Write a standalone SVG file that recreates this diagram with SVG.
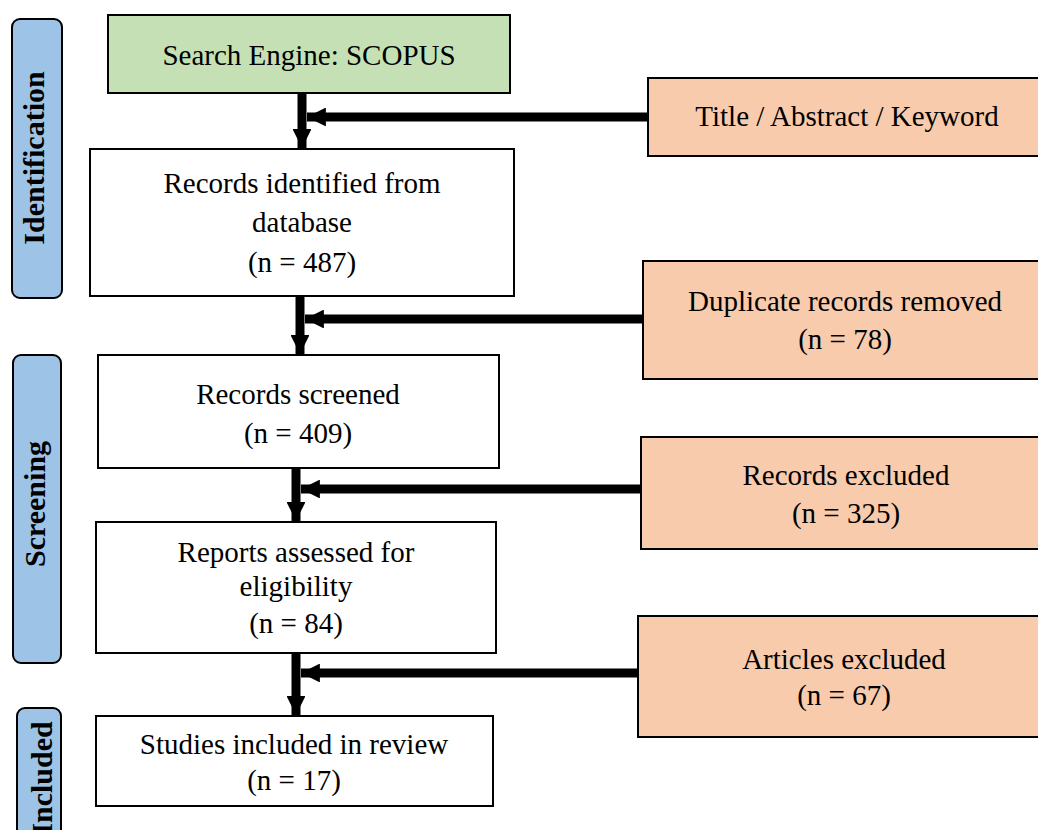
<svg xmlns="http://www.w3.org/2000/svg" width="1038" height="830" viewBox="0 0 1038 830">
  <style>
    .box { stroke: #000; stroke-width: 2; }
    .plain { fill: #fff; }
    .green { fill: #C5E0B4; }
    .orange { fill: #F8CBAD; }
    .phase { fill: #9DC3E6; stroke: #000; stroke-width: 2; }
    .txt { font-family: "Liberation Serif", "Times New Roman", serif; font-size: 29px; fill: #000; text-anchor: middle; }
    .ph { font-family: "Liberation Serif", "Times New Roman", serif; font-size: 30px; font-weight: bold; fill: #000; text-anchor: middle; }
    .shaft { stroke: #000; stroke-width: 9; fill: none; }
  </style>
  <defs>
    <marker id="head" viewBox="0 0 10 10" refX="10" refY="5" markerWidth="2.1" markerHeight="2.1" markerUnits="strokeWidth" orient="auto">
      <path d="M0,0 L10,5 L0,10 Z" fill="#000"/>
    </marker>
  </defs>

  <!-- phase labels -->
  <g id="phase-identification">
    <rect class="phase" x="12" y="19" width="50" height="279" rx="8"/>
    <text class="ph" transform="translate(44,158) rotate(-90)">Identification</text>
  </g>
  <g id="phase-screening">
    <rect class="phase" x="13" y="355" width="48" height="308" rx="8"/>
    <text class="ph" transform="translate(45,504) rotate(-90)">Screening</text>
  </g>
  <g id="phase-included">
    <rect class="phase" x="17" y="708" width="44" height="140" rx="8"/>
    <text class="ph" transform="translate(52,778) rotate(-90)">Included</text>
  </g>

  <!-- flow boxes -->
  <g id="search-engine">
    <rect class="box green" x="108" y="15" width="402" height="78"/>
    <text class="txt" x="309" y="65">Search Engine: SCOPUS</text>
  </g>
  <g id="records-identified">
    <rect class="box plain" x="90" y="149" width="424" height="147"/>
    <text class="txt" x="302" y="193">Records identified from</text>
    <text class="txt" x="302" y="232">database</text>
    <text class="txt" x="302" y="272">(n = 487)</text>
  </g>
  <g id="records-screened">
    <rect class="box plain" x="98" y="355" width="401" height="113"/>
    <text class="txt" x="298" y="404">Records screened</text>
    <text class="txt" x="298" y="443">(n = 409)</text>
  </g>
  <g id="reports-assessed">
    <rect class="box plain" x="96" y="522" width="400" height="131"/>
    <text class="txt" x="296" y="562">Reports assessed for</text>
    <text class="txt" x="296" y="596">eligibility</text>
    <text class="txt" x="296" y="633">(n = 84)</text>
  </g>
  <g id="studies-included">
    <rect class="box plain" x="96" y="716" width="397" height="90"/>
    <text class="txt" x="294" y="754">Studies included in review</text>
    <text class="txt" x="294" y="790">(n = 17)</text>
  </g>

  <!-- side boxes -->
  <g id="search-fields">
    <rect class="box orange" x="648" y="78" width="400" height="78"/>
    <text class="txt" x="847" y="126">Title / Abstract / Keyword</text>
  </g>
  <g id="duplicates-removed">
    <rect class="box orange" x="643" y="261" width="405" height="118"/>
    <text class="txt" x="845" y="311">Duplicate records removed</text>
    <text class="txt" x="845" y="349">(n = 78)</text>
  </g>
  <g id="records-excluded">
    <rect class="box orange" x="641" y="437" width="407" height="112"/>
    <text class="txt" x="846" y="485">Records excluded</text>
    <text class="txt" x="846" y="523">(n = 325)</text>
  </g>
  <g id="articles-excluded">
    <rect class="box orange" x="638" y="616" width="410" height="121"/>
    <text class="txt" x="844" y="669">Articles excluded</text>
    <text class="txt" x="844" y="705">(n = 67)</text>
  </g>

  <!-- connectors -->
  <g id="connectors">
    <line class="shaft" x1="302" y1="93" x2="302" y2="148" marker-end="url(#head)"/>
    <line class="shaft" x1="648" y1="117" x2="307" y2="117" marker-end="url(#head)"/>

    <line class="shaft" x1="300" y1="296" x2="300" y2="354" marker-end="url(#head)"/>
    <line class="shaft" x1="643" y1="319" x2="305" y2="319" marker-end="url(#head)"/>

    <line class="shaft" x1="296" y1="468" x2="296" y2="521" marker-end="url(#head)"/>
    <line class="shaft" x1="641" y1="489" x2="301" y2="489" marker-end="url(#head)"/>

    <line class="shaft" x1="296" y1="653" x2="296" y2="715" marker-end="url(#head)"/>
    <line class="shaft" x1="638" y1="673" x2="301" y2="673" marker-end="url(#head)"/>
  </g>
</svg>
